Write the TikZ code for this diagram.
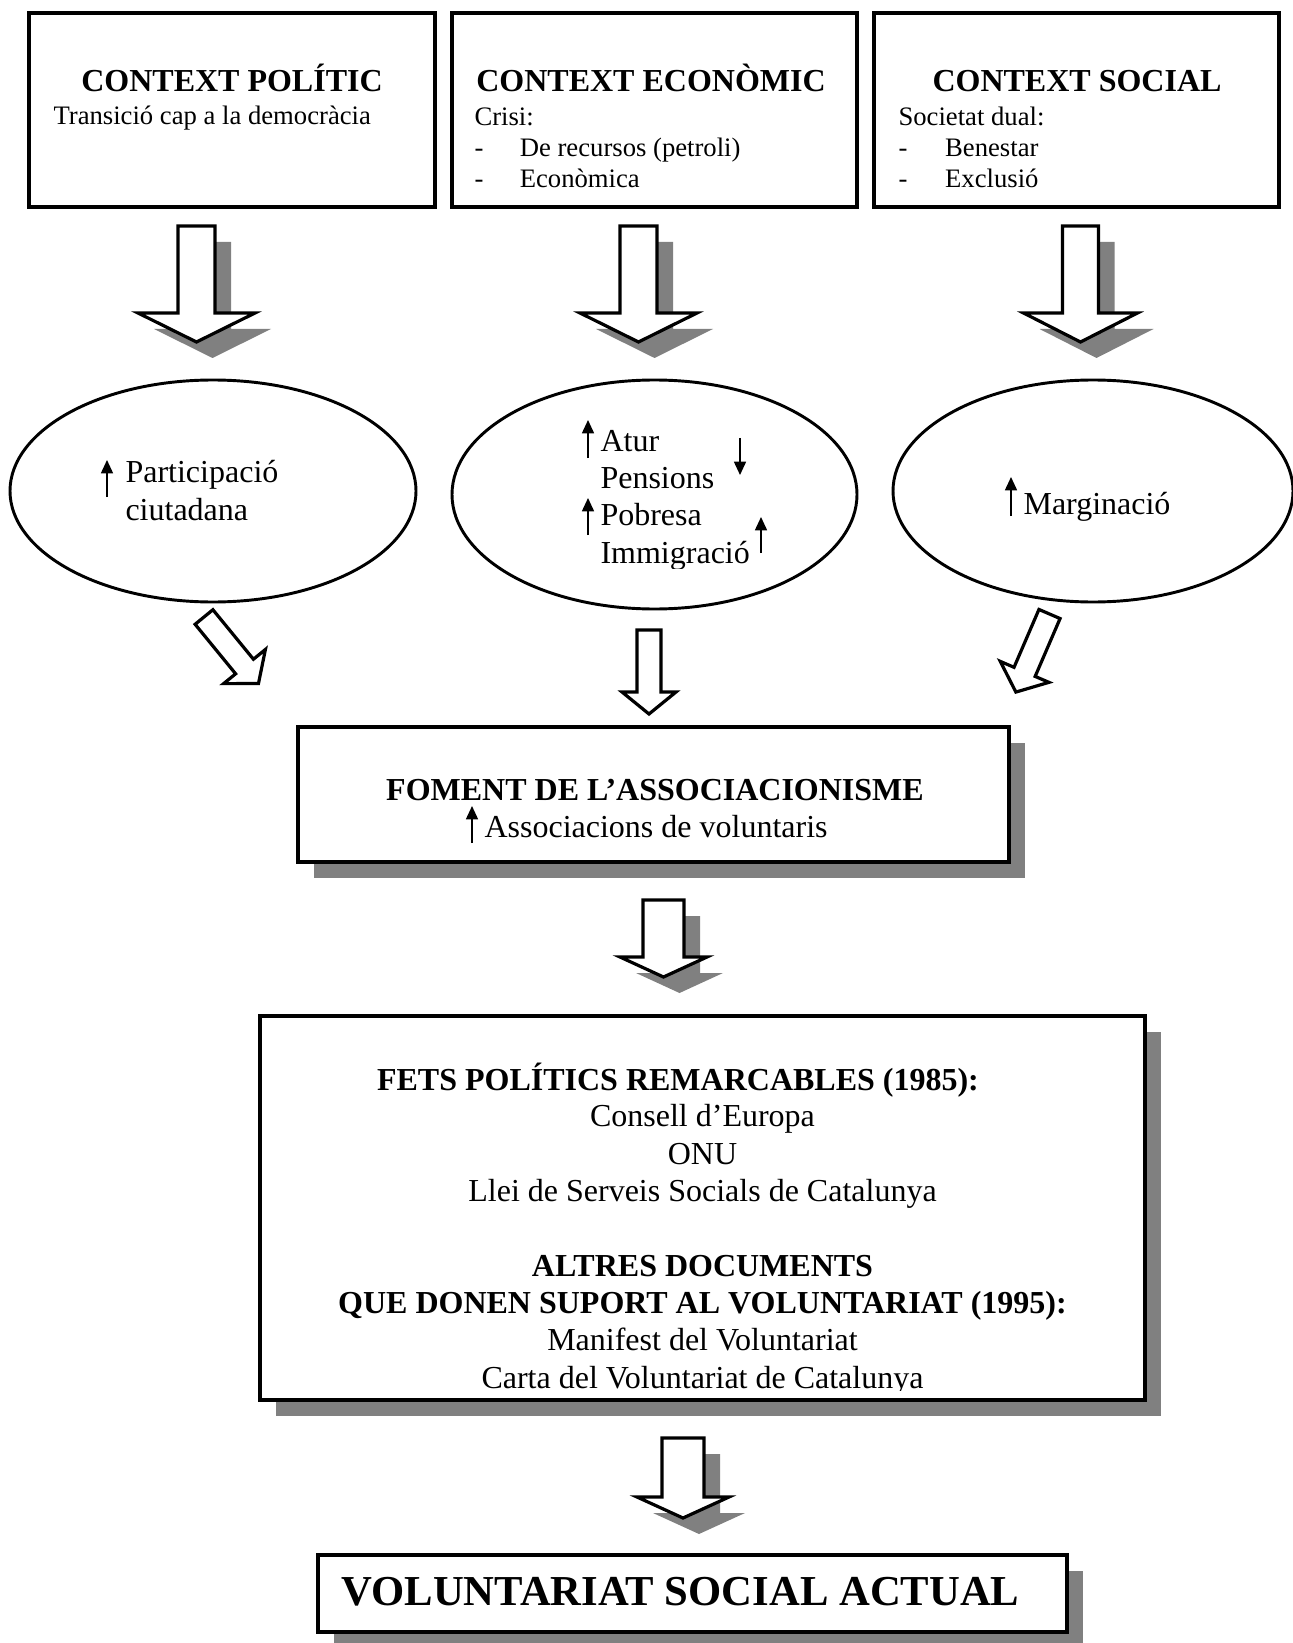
\documentclass[tikz,border=0pt]{standalone}
\usepackage{fontspec}
\setmainfont{Liberation Serif}
\usetikzlibrary{shapes.geometric,shadows,arrows.meta}

\tikzset{
  ctxbox/.style={draw, rectangle, line width=1.3pt, inner sep=0},
  shadowbox/.style={ctxbox, fill=white, drop shadow={shadow xshift=6pt, shadow yshift=-6pt, opacity=1, fill=black!50}},
  effect/.style={draw, ellipse, line width=1.1pt, inner sep=0},
  arrowbody/.style={draw, fill=white, line width=1.2pt},
  arrowshadow/.style={drop shadow={shadow xshift=6pt, shadow yshift=-6pt, opacity=1, fill=black!50}},
  title/.style={inner sep=0, font=\fontsize{12}{14}\selectfont\bfseries},
  body/.style={inner sep=0, font=\fontsize{12}{14}\selectfont, align=left},
  note/.style={inner sep=0, font=\fontsize{10}{11.8}\selectfont, align=left},
  rise/.style={-{Triangle[length=5pt,width=4.5pt]}, line width=0.6pt}
}

% #1 style, #2 tail, #3 rotation, #4 length, #5 half shaft, #6 half head, #7 head length
\newcommand{\blockarrow}[7][]{%
  \begin{scope}[shift={#2}, rotate=#3]
    \path[arrowbody, #1] (-#5,0) -- (#5,0) -- (#5,#4-#7) -- (#6,#4-#7) -- (0,#4) -- (-#6,#4-#7) -- (-#5,#4-#7) -- cycle;
  \end{scope}}

\begin{document}
\begin{tikzpicture}[x=0.375pt, y=-0.375pt]
  \useasboundingbox (0,0) rectangle (1292,1643);
  % \draw[step=100,thin,gray!40] (0,0) grid (1292,1643);

  \node[ctxbox, minimum width=406*0.375pt, minimum height=194*0.375pt] (polBox) at (232,110) {};
  \node[ctxbox, minimum width=405*0.375pt, minimum height=194*0.375pt] (ecoBox) at (654.5,110) {};
  \node[ctxbox, minimum width=405*0.375pt, minimum height=194*0.375pt] (socBox) at (1076.5,110) {};

  % multi-line nodes: base = last line
  \node[title, anchor=base] (polHead) at (232,92) {CONTEXT POLÍTIC};
  \node[note, anchor=base west] (polNote) at (53,125) {Transició cap a la democràcia};
  \node[title, anchor=base] (ecoHead) at (651,92) {CONTEXT ECONÒMIC};
  \node[note, anchor=base west] (ecoNote) at (474,188) {Crisi:\\\makebox[17pt][l]{-}De recursos (petroli)\\\makebox[17pt][l]{-}Econòmica};
  \node[title, anchor=base] (socHead) at (1077,92) {CONTEXT SOCIAL};
  \node[note, anchor=base west] (socNote) at (898,188) {Societat dual:\\\makebox[17.5pt][l]{-}Benestar\\\makebox[17.5pt][l]{-}Exclusió};

  \coordinate (polArrow) at (196.5,226);
  \coordinate (ecoArrow) at (638.5,226);
  \coordinate (socArrow) at (1080.5,226);
  \blockarrow[arrowshadow]{(polArrow)}{0}{116}{18.5}{58.5}{29}
  \blockarrow[arrowshadow]{(ecoArrow)}{0}{116}{18.5}{58.5}{29}
  \blockarrow[arrowshadow]{(socArrow)}{0}{116}{18}{57}{29}

  \node[effect, minimum width=406*0.375pt, minimum height=222*0.375pt] (polEll) at (213,491) {};
  \node[effect, minimum width=405*0.375pt, minimum height=229*0.375pt] (ecoEll) at (654.5,494.5) {};
  \node[effect, minimum width=400*0.375pt, minimum height=222*0.375pt] (socEll) at (1093,491) {};

  \node[body, anchor=base west] (parTxt) at (125,520) {Participació\\ciutadana};
  \draw[rise] ([shift={(-18,-23)}]parTxt.base west) -- ++(0,-37);

  \begin{scope}
    \clip (560,400) rectangle (820,568);
    \node[body, anchor=base west] (ecoTxt) at (600,563) {Atur\\Pensions\\Pobresa\\Immigració};
  \end{scope}
  \draw[rise] ([shift={(-12,-105)}]ecoTxt.base west) -- ++(0,-38);
  \draw[rise] ([shift={(-12,-28)}]ecoTxt.base west) -- ++(0,-37);
  \draw[rise] ([shift={(140,-125)}]ecoTxt.base west) -- ++(0,37);
  \draw[rise] ([shift={(161,-10)}]ecoTxt.base west) -- ++(0,-36);

  \node[body, anchor=base west] (marTxt) at (1023,514) {Marginació};
  \draw[rise] ([shift={(-12,2)}]marTxt.base west) -- ++(0,-39);

  \coordinate (parArrow) at (204,617);
  \coordinate (atuArrow) at (649,630);
  \coordinate (marArrow) at (1049.5,614);
  \blockarrow{(parArrow)}{39.3}{86}{11.5}{27}{22}
  \blockarrow{(atuArrow)}{0}{84}{12}{27}{22}
  \blockarrow{(marArrow)}{-23.3}{85}{11.5}{26.5}{22}

  \node[shadowbox, minimum width=711*0.375pt, minimum height=135*0.375pt] (fomBox) at (653.5,794.5) {};
  \node[title, anchor=base] (fomHead) at (655,800) {FOMENT DE L’ASSOCIACIONISME};
  \node[body, anchor=base west] (fomTxt) at (484,837) {Associacions de voluntaris};
  \draw[rise] ([shift={(-12,6)}]fomTxt.base west) -- ++(0,-37);

  \coordinate (fomArrow) at (663.5,900);
  \blockarrow[arrowshadow]{(fomArrow)}{0}{77}{20.5}{43.5}{20}

  \node[shadowbox, minimum width=885*0.375pt, minimum height=384*0.375pt] (fetBox) at (702.5,1208) {};
  \node[title, anchor=base] (fetHead) at (678,1090) {FETS POLÍTICS REMARCABLES (1985):};
  \begin{scope}
    \clip (262,1018) rectangle (1143,1390);
    \node[body, align=center, anchor=base] (fetTxt) at (702.5,1388) {Consell d’Europa\\ONU\\Llei de Serveis Socials de Catalunya\\[14pt]\textbf{ALTRES DOCUMENTS}\\\textbf{QUE DONEN SUPORT AL VOLUNTARIAT (1995):}\\Manifest del Voluntariat\\Carta del Voluntariat de Catalunya};
  \end{scope}

  \coordinate (fetArrow) at (683,1438);
  \blockarrow[arrowshadow]{(fetArrow)}{0}{80}{21}{46}{21}

  \node[shadowbox, minimum width=749*0.375pt, minimum height=77*0.375pt] (volBox) at (692.5,1593.5) {};
  \node[inner sep=0, font=\fontsize{16}{19}\selectfont\bfseries, anchor=base west] (volTxt) at (341,1605) {VOLUNTARIAT SOCIAL ACTUAL};

\end{tikzpicture}
\end{document}
